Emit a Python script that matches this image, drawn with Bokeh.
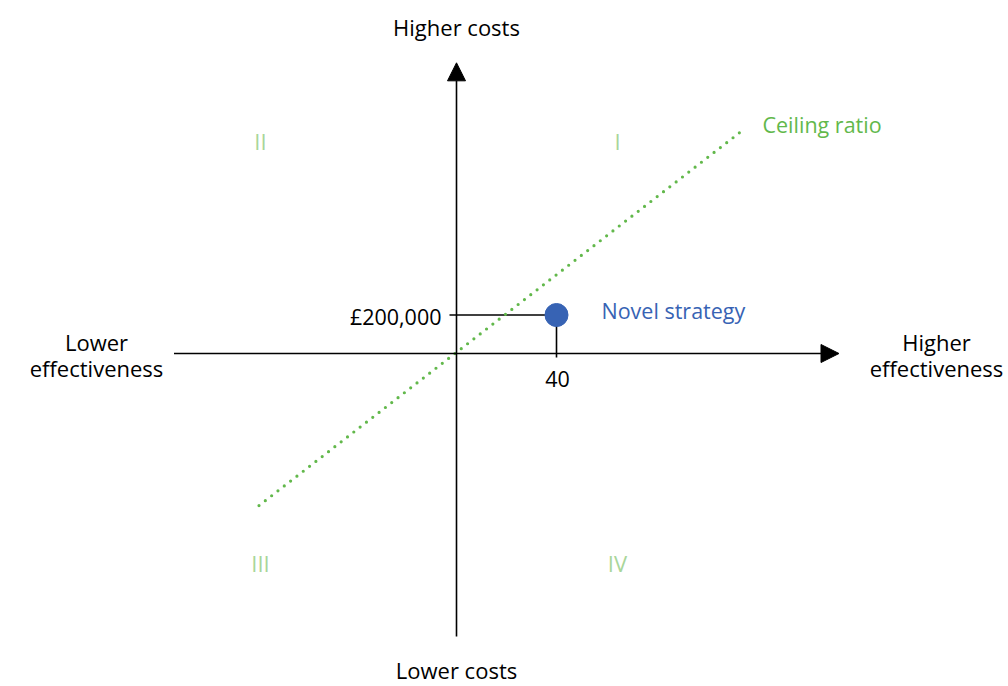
from bokeh.plotting import figure
from bokeh.models import Arrow, NormalHead, Label, Range1d
from bokeh.embed import file_html
from bokeh.resources import INLINE

# ---- data ----
point_effect = [40]
point_cost = [200000]
point_name = "Novel strategy"
ceiling_effect = [-79, 114]
ceiling_cost = [-790000, 1155000]
ceiling_name = "Ceiling ratio"
effect_axis = [-113, 153]
cost_axis = [-1470000, 1510000]
tick_cost_label = "£200,000"
tick_effect_label = "40"
quadrants = ["I", "II", "III", "IV"]

# ---- layout helpers (page pixel -> data) ----
W, H = 1008, 686
OFF = 0                    # observed canvas offset on page
OX, OY = 456, 353          # page pixel of origin
SX = 2.5                   # px per effect unit
SY = 38.5 / 200000         # px per £


def dx(px):
    return (px - OX) / SX


def dy(py):
    return (OY - py) / SY


p = figure(width=W, height=H, output_backend="svg", toolbar_location=None,
           x_range=Range1d(dx(OFF), dx(OFF + W)), y_range=Range1d(dy(OFF + H), dy(OFF)),
           min_border=0)
p.axis.visible = False
p.grid.visible = False
p.outline_line_color = None
p.background_fill_color = "white"
p.border_fill_color = "white"

FONT = "Open Sans"
FS = "22px"
FS_SMALL = "21.5px"
GREEN = "#62b84b"
LIGHT = "#a9d69a"
BLUE = "#3763b4"

# axes with arrows
p.add_layout(Arrow(end=NormalHead(size=18, fill_color="black", line_color="black", line_width=1),
                   x_start=effect_axis[0], y_start=0, x_end=effect_axis[1], y_end=0,
                   line_width=1.6, line_color="black"))
p.add_layout(Arrow(end=NormalHead(size=18, fill_color="black", line_color="black", line_width=1),
                   x_start=0, y_start=cost_axis[0], x_end=0, y_end=cost_axis[1],
                   line_width=1.6, line_color="black"))

# guide lines to point
p.line([dx(449), point_effect[0]], [point_cost[0], point_cost[0]], line_color="black", line_width=1.6)
p.line([point_effect[0], point_effect[0]], [point_cost[0], dy(357)], line_color="black", line_width=1.6)

# ceiling line
p.line(ceiling_effect, ceiling_cost, line_color=GREEN, line_width=3.2,
       line_dash="0 8", line_cap="round")

# point
p.scatter(point_effect, point_cost, size=23, fill_color=BLUE, line_color=BLUE)


def lab(text, x, y, align="center", color="black", size=FS):
    p.add_layout(Label(x=x, y=y, text=text, text_align=align, text_baseline="middle",
                       text_font=FONT, text_font_size=size, text_color=color))


lab(tick_cost_label, dx(441), point_cost[0] + (dy(316) - dy(314.5)), align="right", size=FS_SMALL)
lab(tick_effect_label, point_effect[0] + (dx(557) - dx(556)), dy(378), size=FS_SMALL)
lab(point_name, dx(601), dy(310), align="left", color=BLUE, size=FS_SMALL)
lab(ceiling_name, dx(762), dy(124), align="left", color=GREEN, size=FS_SMALL)

lab("Higher costs", 0, dy(26))
lab("Lower costs", 0, dy(669))
lab("Lower", dx(96), dy(341))
lab("effectiveness", dx(96), dy(367))
lab("Higher", dx(936), dy(341))
lab("effectiveness", dx(936), dy(367))

quad_pos = {"I": (617, 140), "II": (260, 140), "III": (260, 562), "IV": (617, 562)}
for q in quadrants:
    qx, qy = quad_pos[q]
    lab(q, dx(qx), dy(qy), color=LIGHT)

open("out.html", "w").write(file_html(p, INLINE))
